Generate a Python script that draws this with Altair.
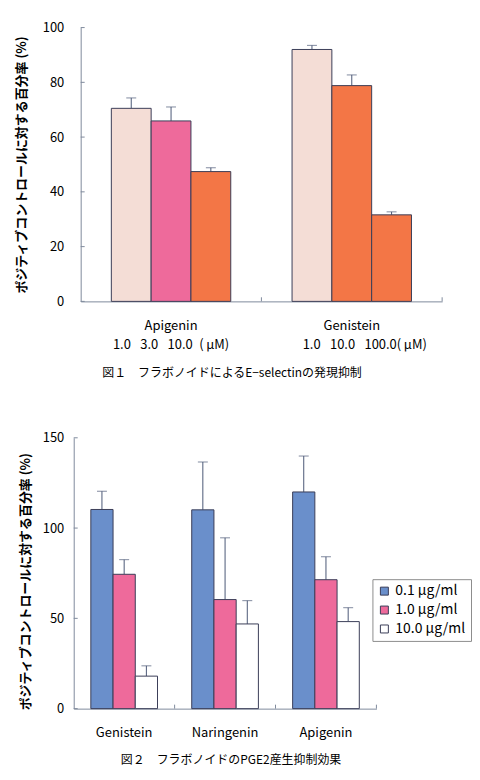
import altair as alt
import pandas as pd

# ---------------- Figure 1 data ----------------
f1_groups = ["Apigenin", "Apigenin", "Apigenin", "Genistein", "Genistein", "Genistein"]
f1_slots = [1, 2, 3, 1, 2, 3]
f1_conc = ["1.0", "3.0", "10.0", "1.0", "10.0", "100.0"]
f1_values = [70.5, 65.9, 47.4, 92.0, 78.8, 31.6]
f1_err_top = [74.3, 71.0, 48.8, 93.5, 82.7, 32.7]
f1_shade = ["light", "pink", "orange", "light", "orange", "orange"]
f1_group_order = ["Apigenin", "Genistein"]
GAP = "\u00a0\u2002"
f1_conc_lines = [
    "1.0" + GAP + "3.0" + GAP + "10.0" + "\u2002(\u2009μM)",
    "\u200b\u2003\u2003" + "1.0" + GAP + "10.0" + GAP + "100.0(\u2009μM)",
]
f1_yticks = [0, 20, 40, 60, 80, 100]

# ---------------- Figure 2 data ----------------
f2_groups = ["Genistein"] * 3 + ["Naringenin"] * 3 + ["Apigenin"] * 3
f2_doses = ["0.1 μg/ml", "1.0 μg/ml", "10.0 μg/ml"] * 3
f2_values = [110.3, 74.4, 18.0, 110.1, 60.4, 46.9, 120.0, 71.4, 48.2]
f2_err_top = [120.4, 82.5, 23.7, 136.6, 94.6, 59.8, 139.9, 84.1, 55.9]
f2_group_order = ["Genistein", "Naringenin", "Apigenin"]
f2_dose_order = ["0.1 μg/ml", "1.0 μg/ml", "10.0 μg/ml"]
f2_yticks = [0, 50, 100, 150]

YTITLE = "ポジティブコントロールに対する百分率 (%)"
CAP1 = "図１　フラボノイドによるE−selectinの発現抑制"
CAP2 = "図２　フラボノイドのPGE2産生抑制効果"

FONT = "Noto Sans CJK JP"
AX = "#7f8a9c"
BAR_STROKE = "#3a3d58"
ERR = "#4b5876"
LIGHT = "#f4ddd6"
PINK = "#ee6a9b"
ORANGE = "#f37646"
BLUE = "#6a8fcb"

df1 = pd.DataFrame({"group": f1_groups, "slot": f1_slots, "conc": f1_conc,
                    "value": f1_values, "err": f1_err_top, "shade": f1_shade})
df2 = pd.DataFrame({"group": f2_groups, "dose": f2_doses,
                    "value": f2_values, "err": f2_err_top})

# ---------- chart 1 ----------
W1, H1 = 370, 275
label_map1 = " : ".join(
    f"datum.value == '{g}' ? ['{g}', '{c}']" for g, c in zip(f1_group_order, f1_conc_lines)
) + " : datum.value"

ax_x1 = alt.Axis(title=None, labelAngle=0, ticks=False, tickSize=0,
                 domainColor=AX, labelExpr=label_map1, labelFontSize=13,
                 labelPadding=18, labelLineHeight=19, labelColor="black")
sc_x1 = alt.Scale(range=[7, W1], paddingInner=0, paddingOuter=0)
x1 = alt.X("group:N", sort=f1_group_order, scale=sc_x1, axis=ax_x1)
x1_end = alt.X("group:N", sort=f1_group_order, scale=sc_x1, axis=ax_x1, bandPosition=1)
xo1 = alt.XOffset("slot:O", scale=alt.Scale(paddingOuter=0.77, paddingInner=0))
y1 = alt.Y("value:Q", scale=alt.Scale(domain=[0, 100], nice=False),
           axis=alt.Axis(values=f1_yticks, title=YTITLE, offset=-7, grid=False,
                         ticks=False, tickSize=0, domainColor=AX, labelFontSize=13,
                         labelPadding=17, titleX=-59, titleY=H1 / 2,
                         titleBaseline="middle", titleFontSize=13,
                         titleFontWeight="bold", labelColor="black"))

base1 = alt.Chart(df1)
bars1 = base1.mark_bar(stroke=BAR_STROKE, strokeWidth=1).encode(
    x=x1, xOffset=xo1, y=y1,
    color=alt.Color("shade:N", scale=alt.Scale(domain=["light", "pink", "orange"],
                                               range=[LIGHT, PINK, ORANGE]), legend=None))
stems1 = base1.mark_rule(color=ERR, strokeWidth=1).encode(
    x=x1, xOffset=xo1, y=y1, y2="err:Q")
caps1 = base1.mark_tick(color=ERR, size=10, thickness=1, orient="horizontal").encode(
    x=x1, xOffset=xo1, y=alt.Y("err:Q"))
yt1 = alt.Chart(pd.DataFrame({"value": f1_yticks})).mark_rule(color=AX).encode(
    y=y1, x=alt.value(7), x2=alt.value(11))
xt1 = alt.Chart(pd.DataFrame({"group": f1_group_order, "value": [0, 0],
                              "top": [1.5, 1.5]})).mark_rule(color=AX).encode(
    x=x1_end, y=y1, y2="top:Q")

chart1 = alt.layer(stems1, caps1, bars1, yt1, xt1).properties(
    width=W1, height=H1,
    title=alt.TitleParams(CAP1, orient="bottom", anchor="middle", frame="group",
                          fontSize=12, fontWeight="normal", font=FONT, dx=-26,
                          offset=17, color="black"))

# ---------- chart 2 ----------
W2, H2 = 304, 272
ax_x2 = alt.Axis(title=None, labelAngle=0, ticks=False, tickSize=0,
                 domainColor=AX, labelFontSize=13, labelPadding=18,
                 labelColor="black")
sc_x2 = alt.Scale(paddingInner=0, paddingOuter=0)
x2 = alt.X("group:N", sort=f2_group_order, scale=sc_x2, axis=ax_x2)
x2_end = alt.X("group:N", sort=f2_group_order, scale=sc_x2, axis=ax_x2, bandPosition=1)
xo2 = alt.XOffset("dose:N", sort=f2_dose_order,
                  scale=alt.Scale(paddingOuter=0.77, paddingInner=0))
y2 = alt.Y("value:Q", scale=alt.Scale(domain=[0, 150], nice=False),
           axis=alt.Axis(values=f2_yticks, title=YTITLE, grid=False,
                         ticks=False, tickSize=0, domainColor=AX, labelFontSize=13,
                         labelPadding=10, titleX=-48, titleY=144,
                         titleBaseline="middle", titleFontSize=13,
                         titleFontWeight="bold", labelColor="black"))

base2 = alt.Chart(df2)
bars2 = base2.mark_bar(stroke=BAR_STROKE, strokeWidth=1).encode(
    x=x2, xOffset=xo2, y=y2,
    color=alt.Color("dose:N", sort=f2_dose_order,
                    scale=alt.Scale(domain=f2_dose_order, range=[BLUE, PINK, "white"]),
                    legend=alt.Legend(title=None, orient="none", legendX=300, legendY=142,
                                      symbolType="square", symbolSize=64,
                                      symbolStrokeColor=BAR_STROKE, symbolStrokeWidth=1,
                                      symbolOpacity=1,
                                      strokeColor="#8c8c8c", fillColor="white",
                                      padding=5, labelFontSize=14, labelFont=FONT,
                                      labelColor="black", rowPadding=5)))
stems2 = base2.mark_rule(color=ERR, strokeWidth=1).encode(
    x=x2, xOffset=xo2, y=y2, y2="err:Q")
caps2 = base2.mark_tick(color=ERR, size=10, thickness=1, orient="horizontal").encode(
    x=x2, xOffset=xo2, y=alt.Y("err:Q"))
yt2 = alt.Chart(pd.DataFrame({"value": f2_yticks})).mark_rule(color=AX).encode(
    y=y2, x=alt.value(0), x2=alt.value(4))
xt2 = alt.Chart(pd.DataFrame({"group": f2_group_order, "value": [0, 0, 0],
                              "top": [2.2, 2.2, 2.2]})).mark_rule(color=AX).encode(
    x=x2_end, y=y2, y2="top:Q")

chart2 = alt.layer(stems2, caps2, bars2, yt2, xt2).properties(
    width=W2, height=H2,
    title=alt.TitleParams(CAP2, orient="bottom", anchor="middle", frame="group",
                          fontSize=12, fontWeight="normal", font=FONT, dx=6,
                          offset=16, color="black"))

chart = alt.vconcat(chart1, chart2, spacing=53).resolve_scale(
    x="independent", y="independent", color="independent", xOffset="independent"
).properties(
    padding={"left": 8, "top": 12, "right": 0, "bottom": 5}
).configure_view(stroke=None).configure_axis(
    labelFont=FONT, titleFont=FONT, titleColor="black"
)

chart.save("out.html", embed_options={"renderer": "svg", "actions": False})
